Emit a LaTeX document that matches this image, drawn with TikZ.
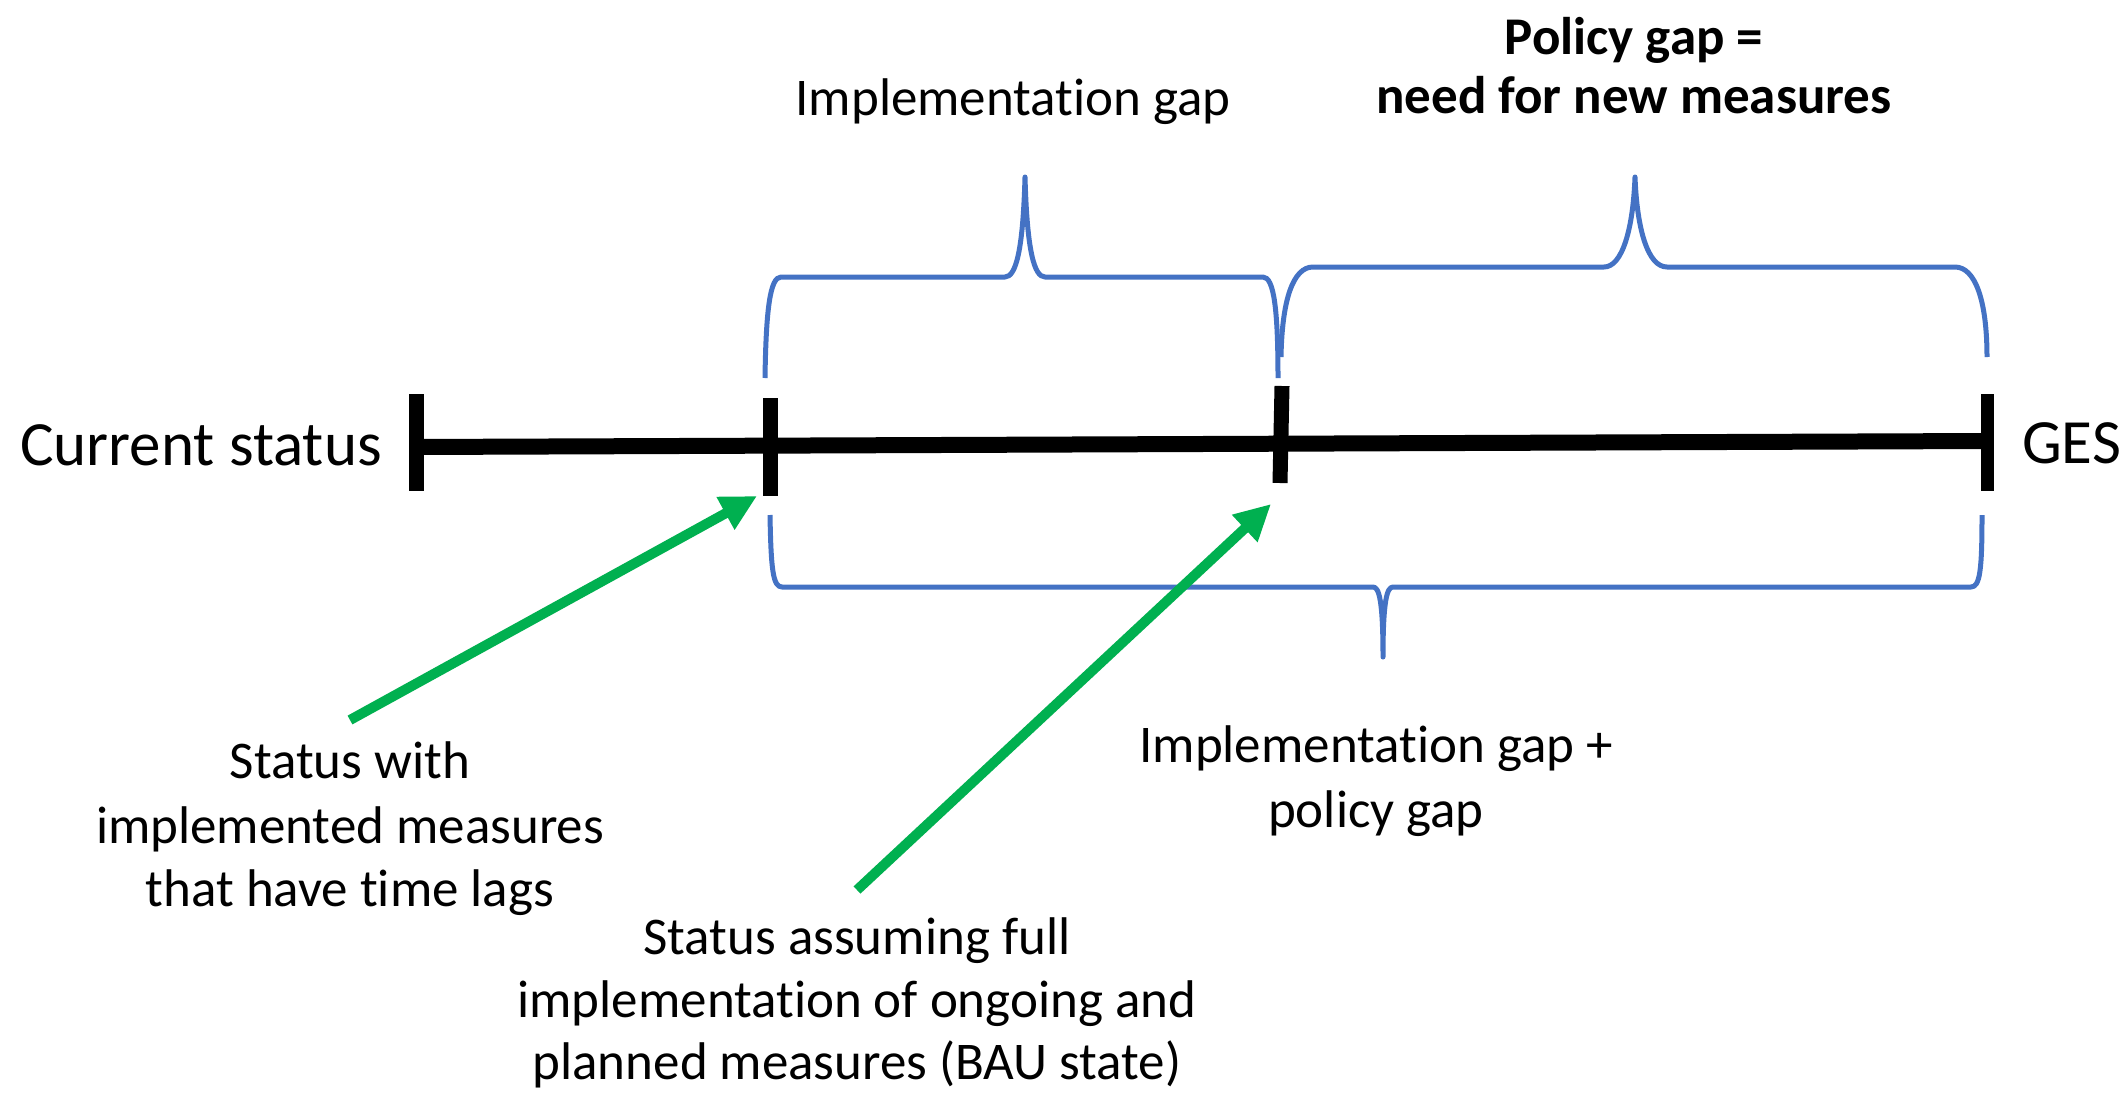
\documentclass[tikz,border=0pt]{standalone}
\usepackage{fontspec}
\setmainfont[Ligatures=NoCommon]{Carlito}
\usetikzlibrary{arrows.meta}
\definecolor{braceblue}{RGB}{68,114,196}
\definecolor{arrowgreen}{RGB}{0,176,80}
\begin{document}
\begin{tikzpicture}[x=1pt,y=-1pt,
  bigtxt/.style={font=\fontsize{63}{75}\selectfont, inner sep=0pt},
  lbl/.style={font=\fontsize{53}{64}\selectfont, inner sep=0pt},
  boldlbl/.style={font=\fontsize{53}{64}\selectfont\bfseries, inner sep=0pt},
  axisline/.style={line width=16pt},
  tickmark/.style={line width=15pt},
  gapbrace/.style={draw=braceblue, line width=5pt, line join=round},
  pointer/.style={draw=arrowgreen, line width=10pt, -{Triangle[length=36pt,width=35pt]}}]
\useasboundingbox (0,0) rectangle (2126,1095);
\fill[white] (0,0) rectangle (2126,1095);

% axis
\coordinate (t1) at (416,447);
\coordinate (t2) at (770,446);
\coordinate (t3) at (1281,444);
\coordinate (t4) at (1987,441);
\draw[axisline] (t1) -- (t4);
\draw[tickmark] (416,394) -- (416,491);
\draw[tickmark] (770,398) -- (770,496);
\draw[tickmark] (1282,386) -- (1280,483);
\draw[tickmark,line width=13pt] (1987,394) -- (1987,491);

% braces
\draw[gapbrace] (765,378) .. controls (766,310) and (770,277) .. (781,277)
  -- (1005,277) .. controls (1016,277) and (1023,250) .. (1025,177)
  .. controls (1027,250) and (1034,277) .. (1045,277)
  -- (1263,277) .. controls (1274,277) and (1278,310) .. (1278,378);
\draw[gapbrace] (1281,357) .. controls (1282,300) and (1293,267) .. (1313,267)
  -- (1604,267) .. controls (1622,267) and (1633,230) .. (1635,177)
  .. controls (1637,230) and (1648,267) .. (1667,267)
  -- (1955,267) .. controls (1975,267) and (1987,300) .. (1987,357);
\draw[gapbrace] (770,515) .. controls (771,570) and (773,587) .. (782,587)
  -- (1373,587) .. controls (1379,587) and (1383,600) .. (1383,657)
  .. controls (1383,600) and (1387,587) .. (1393,587)
  -- (1971,587) .. controls (1980,587) and (1982,570) .. (1982,515);

% arrows
\coordinate (a1s) at (350,720);
\coordinate (a1e) at (757,496);
\coordinate (a2s) at (857,890);
\coordinate (a2e) at (1271,504);
\draw[pointer] (a1s) -- (a1e);
\draw[pointer] (a2s) -- (a2e);

% texts
\node[bigtxt, anchor=base east] (cur) at (382,465) {Current status};
\node[bigtxt, anchor=base west] (ges) at (2022,463) {GES};
\node[lbl, anchor=base] (ig) at (1013,115) {Implementation gap};
\node[boldlbl, anchor=base] (pg1) at (1634,54) {Policy gap =};
\node[boldlbl, anchor=base] (pg2) at (1634,113) {need for new measures};
\node[lbl, anchor=base] (s1a) at (350,778) {Status with};
\node[lbl, anchor=base] (s1b) at (350,843) {implemented measures};
\node[lbl, anchor=base] (s1c) at (350,906) {that have time lags};
\node[lbl, anchor=base] (s2a) at (857,954) {Status assuming full};
\node[lbl, anchor=base] (s2b) at (857,1017) {implementation of ongoing and};
\node[lbl, anchor=base] (s2c) at (857,1079) {planned measures (BAU state)};
\node[lbl, anchor=base] (ip1) at (1376,762) {Implementation gap +};
\node[lbl, anchor=base] (ip2) at (1376,827) {policy gap};
\end{tikzpicture}
\end{document}
